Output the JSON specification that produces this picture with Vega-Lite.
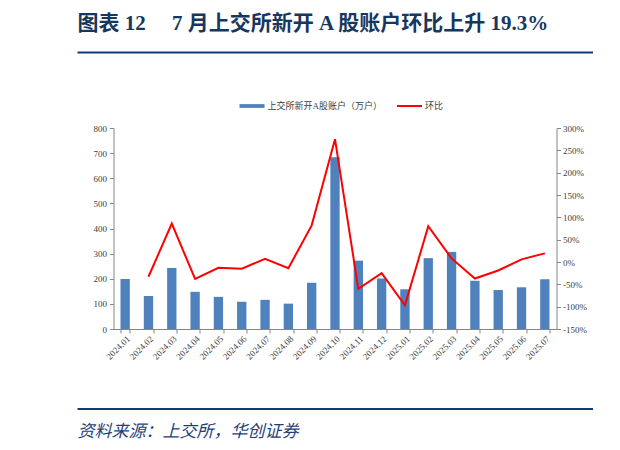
{
  "$schema": "https://vega.github.io/schema/vega-lite/v6.json",
  "background": "white",
  "padding": {"left": 74, "top": 12, "right": 0, "bottom": 12},
  "config": {
    "view": {"stroke": null},
    "axis": {"grid": false}
  },
  "data": {
    "values": [
      {"月份": "2024.01", "开户数": 199, "环比": null},
      {"月份": "2024.02", "开户数": 131, "环比": -33},
      {"月份": "2024.03", "开户数": 243, "环比": 86},
      {"月份": "2024.04", "开户数": 148, "环比": -38},
      {"月份": "2024.05", "开户数": 128, "环比": -13},
      {"月份": "2024.06", "开户数": 108, "环比": -15},
      {"月份": "2024.07", "开户数": 116, "环比": 7},
      {"月份": "2024.08", "开户数": 101, "环比": -14},
      {"月份": "2024.09", "开户数": 184, "环比": 82},
      {"月份": "2024.10", "开户数": 684, "环比": 275},
      {"月份": "2024.11", "开户数": 272, "环比": -60},
      {"月份": "2024.12", "开户数": 201, "环比": -25},
      {"月份": "2025.01", "开户数": 158, "环比": -97},
      {"月份": "2025.02", "开户数": 282, "环比": 80},
      {"月份": "2025.03", "开户数": 307, "环比": 8},
      {"月份": "2025.04", "开户数": 192, "环比": -37},
      {"月份": "2025.05", "开户数": 155, "环比": -19},
      {"月份": "2025.06", "开户数": 166, "环比": 6},
      {"月份": "2025.07", "开户数": 198, "环比": 19.3}
    ]
  },
  "bounds": "flush",
  "center": true,
  "spacing": 75,
  "vconcat": [
    {
      "width": 516,
      "height": 1,
      "mark": {"type": "point", "opacity": 0},
      "encoding": {
        "x": {
          "datum": 0,
          "type": "quantitative",
          "scale": {"domain": [0, 1]},
          "axis": {
            "orient": "top",
            "domainColor": "#0f3b7d",
            "domainWidth": 2,
            "ticks": false,
            "labels": false,
            "title": "图表 12 　7 月上交所新开 A 股账户环比上升 19.3%",
            "titleFont": "Liberation Serif, Noto Sans CJK SC",
            "titleFontSize": 21,
            "titleFontWeight": "bold",
            "titleColor": "#17375e",
            "titleAnchor": "start",
            "titleAlign": "left",
            "titlePadding": 19
          }
        }
      }
    },
    {
      "width": 443,
      "height": 201,
      "layer": [
        {
          "mark": {"type": "bar", "color": "#4f81bd"},
          "encoding": {
            "x": {
              "field": "月份",
              "type": "nominal",
              "sort": null,
              "scale": {"paddingInner": 0.6, "paddingOuter": 0.3},
              "axis": {
                "title": null,
                "labelAngle": -45,
                "labelFont": "Liberation Serif",
                "labelFontSize": 9,
                "labelColor": "#404040",
                "domainColor": "#868686",
                "tickColor": "#868686",
                "tickSize": 4,
                "tickBand": "extent",
                "labelPadding": 1
              }
            },
            "y": {
              "field": "开户数",
              "type": "quantitative",
              "scale": {"domain": [0, 800]},
              "axis": {
                "title": null,
                "values": [0, 100, 200, 300, 400, 500, 600, 700, 800],
                "labelFont": "Liberation Serif",
                "labelFontSize": 9,
                "labelColor": "#404040",
                "domainColor": "#868686",
                "tickColor": "#868686",
                "tickSize": 4,
                "labelPadding": 3
              }
            },
            "fill": {
              "datum": "上交所新开A股账户（万户）",
              "scale": {"range": ["#4f81bd"]},
              "legend": {
                "title": null,
                "orient": "none",
                "legendX": 161.5,
                "legendY": 40.5,
                "padding": 0,
                "symbolType": "M-1,-0.15H1V0.15H-1Z",
                "symbolSize": 625,
                "labelFont": "Liberation Serif, Noto Sans CJK SC",
                "labelFontSize": 9,
                "labelColor": "#404040",
                "labelOffset": 2
              }
            }
          }
        },
        {
          "mark": {"type": "line", "color": "#ff0000", "strokeWidth": 2},
          "encoding": {
            "x": {"field": "月份", "type": "nominal", "sort": null},
            "y": {
              "field": "环比",
              "type": "quantitative",
              "scale": {"domain": [-150, 300]},
              "axis": {
                "orient": "right",
                "title": null,
                "values": [-150, -100, -50, 0, 50, 100, 150, 200, 250, 300],
                "labelExpr": "datum.value + '%'",
                "labelFont": "Liberation Serif",
                "labelFontSize": 9,
                "labelColor": "#404040",
                "domainColor": "#868686",
                "tickColor": "#868686",
                "tickSize": 4,
                "labelPadding": 2
              }
            },
            "stroke": {
              "datum": "环比",
              "scale": {"range": ["#ff0000"]},
              "legend": {
                "title": null,
                "orient": "none",
                "legendX": 319,
                "legendY": 40.5,
                "padding": 0,
                "symbolType": "stroke",
                "symbolSize": 625,
                "symbolStrokeWidth": 2,
                "labelFont": "Liberation Serif, Noto Sans CJK SC",
                "labelFontSize": 9,
                "labelColor": "#404040",
                "labelOffset": 2
              }
            }
          }
        }
      ],
      "resolve": {"scale": {"y": "independent"}}
    },
    {
      "width": 516,
      "height": 4.5,
      "mark": {"type": "point", "opacity": 0},
      "encoding": {
        "x": {
          "datum": 0,
          "type": "quantitative",
          "scale": {"domain": [0, 1]},
          "axis": {
            "orient": "bottom",
            "domainColor": "#0f3b7d",
            "domainWidth": 2,
            "ticks": false,
            "labels": false,
            "title": "资料来源：上交所，华创证券",
            "titleFont": "Noto Sans CJK SC",
            "titleFontSize": 17,
            "titleFontWeight": "normal",
            "titleFontStyle": "italic",
            "titleColor": "#1f3f7a",
            "titleAnchor": "start",
            "titleAlign": "left",
            "titlePadding": 15
          }
        }
      }
    }
  ]
}
